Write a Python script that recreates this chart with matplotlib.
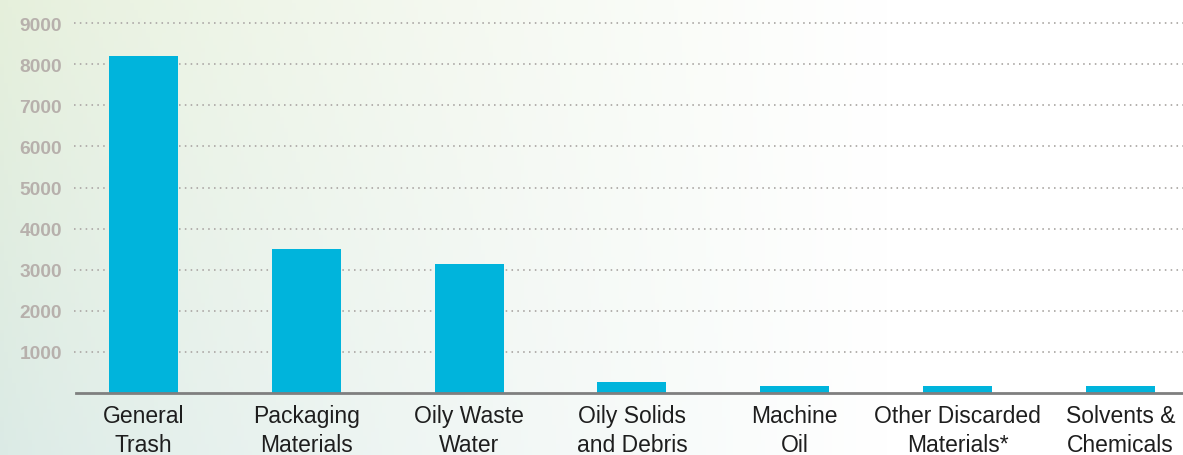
import numpy as np
import matplotlib
matplotlib.use("Agg")
import matplotlib.pyplot as plt

categories = ["General\nTrash", "Packaging\nMaterials", "Oily Waste\nWater",
              "Oily Solids\nand Debris", "Machine\nOil", "Other Discarded\nMaterials*",
              "Solvents &\nChemicals"]
values = [8190, 3500, 3150, 270, 180, 180, 180]
yticks = [1000, 2000, 3000, 4000, 5000, 6000, 7000, 8000, 9000]

W, H = 1183, 456
fig = plt.figure(figsize=(W / 100, H / 100), dpi=100)

# background gradient
bg = fig.add_axes([0, 0, 1, 1], zorder=-10)
gx = np.linspace(0, 1, 300)
gy = np.linspace(0, 1, 120)
X, Y = np.meshgrid(gx, gy)
t = np.clip(X / 0.75, 0, 1)
left_top = np.array([0.90, 0.94, 0.86])
left_bot = np.array([0.86, 0.92, 0.90])
white = np.array([1.0, 1.0, 1.0])
left = left_top[None, None, :] * (1 - Y[..., None]) + left_bot[None, None, :] * Y[..., None]
img = left * (1 - t[..., None] ** 0.8) + white * (t[..., None] ** 0.8)
bg.imshow(img, aspect="auto", extent=[0, 1, 0, 1], origin="upper")
bg.axis("off")

# main axes
x0, x1 = 76, 1183
ybase, ytop = 394, 10
ax = fig.add_axes([x0 / W, (H - ybase) / H, (x1 - x0) / W, (ybase - ytop) / H])
ax.patch.set_alpha(0)

px_per_1000 = 41.1
ax.set_ylim(0, (ybase - ytop) / px_per_1000 * 1000)
spacing = 162.8
first_center = 143.5
ax.set_xlim(-(first_center - x0) / spacing, -(first_center - x0) / spacing + (x1 - x0) / spacing)

pos = np.arange(len(categories))
ax.bar(pos, values, width=69 / spacing, color="#00b4dc", zorder=3)

for v in yticks:
    ax.axhline(v, xmin=-2 / (x1 - x0), color="#b3b0ad", lw=1.4,
               linestyle=(0, (0.8, 2.2)), zorder=1, clip_on=False)

ax.set_yticks(yticks)
ax.set_yticklabels([str(v) for v in yticks], fontfamily="Liberation Sans",
                   fontweight="bold", fontsize=13.8, color="#b7b0ac")
ax.tick_params(axis="y", length=0, pad=10)

ax.set_xticks(pos)
ax.set_xticklabels(categories, fontfamily="Liberation Sans", fontsize=16.5,
                   color="#1e1e1e", linespacing=1.3)
ax.tick_params(axis="x", length=0, pad=8)

for s in ["top", "right", "left"]:
    ax.spines[s].set_visible(False)
ax.spines["bottom"].set_color("#7f7f7f")
ax.spines["bottom"].set_linewidth(2)
ax.spines["bottom"].set_zorder(4)

fig.savefig("out.png", dpi=100)
